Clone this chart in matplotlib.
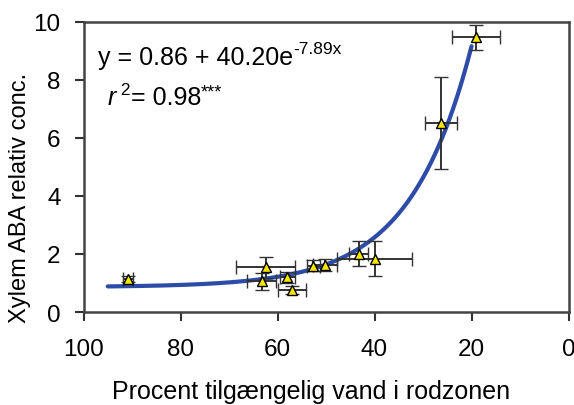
import numpy as np
import matplotlib
matplotlib.use("Agg")
import matplotlib.pyplot as plt
from matplotlib.transforms import offset_copy

plt.rcParams['font.family'] = ['Liberation Sans', 'DejaVu Sans']

# Data (percent available water, relative xylem ABA concentration)
x_pct = [90.8, 62.4, 63.3, 58.0, 57.1, 52.6, 50.2, 43.3, 40.0, 26.3, 19.1]
y_aba = [1.14, 1.54, 1.06, 1.19, 0.76, 1.60, 1.63, 2.00, 1.83, 6.51, 9.46]
x_err = [1.0, 6.1, 2.9, 1.5, 2.9, 1.3, 2.5, 2.0, 7.7, 3.3, 4.9]
y_err = [0.10, 0.36, 0.30, 0.20, 0.15, 0.20, 0.20, 0.43, 0.60, 1.60, 0.43]

# Fitted model y = a + b*exp(-k*x), x as fraction
fit_a, fit_b, fit_k = 0.86, 40.20, 7.89
fit_range = (0.20, 0.95)

x_ticks = [100, 80, 60, 40, 20, 0]
y_ticks = [0, 2, 4, 6, 8, 10]

fig = plt.figure(figsize=(5.74, 4.06), dpi=100)
ax = fig.add_axes([0.1455, 0.229, 0.845, 0.715])

xf = np.linspace(fit_range[0], fit_range[1], 200)
yf = fit_a + fit_b * np.exp(-fit_k * xf)
ax.plot(xf * 100, yf, color='#2c4ca8', lw=3.0, zorder=2, solid_capstyle='round')

ax.errorbar(x_pct, y_aba, xerr=x_err, yerr=y_err, fmt='^', ms=7.5,
            mfc='#f5e600', mec='black', mew=1.0, ecolor='#333333',
            elinewidth=1.4, capsize=5, capthick=1.4, zorder=3)

ax.set_xlim(100, 0)
ax.set_ylim(0, 10)
ax.set_xticks(x_ticks)
ax.set_yticks(y_ticks)
ax.tick_params(direction='out', length=6.5, width=1.5, colors='#333333',
               labelsize=17.5, labelcolor='black')
ax.tick_params(axis='x', pad=12)
ax.tick_params(axis='y', pad=10)
for s in ax.spines.values():
    s.set_color('#444444')
    s.set_linewidth(1.8)

ax.set_xlabel('Procent tilgængelig vand i rodzonen', fontsize=18)
ax.xaxis.set_label_coords(0.469, -0.232)
ax.set_ylabel('Xylem ABA relativ conc.', fontsize=17)
ax.yaxis.set_label_coords(-0.108, 0.395)

fig.canvas.draw()
renderer = fig.canvas.get_renderer()


def chain(pieces, x0, y0):
    """pieces: list of (text, fontsize, rise_px, style)"""
    base = ax.transAxes
    xoff = 0.0
    for txt, fs, rise, style in pieces:
        tr = offset_copy(base, fig=fig, x=xoff, y=rise * 72 / fig.dpi,
                         units='points')
        t = ax.text(x0, y0, txt, transform=tr, fontsize=fs, va='baseline',
                    ha='left', style=style)
        bb = t.get_window_extent(renderer=renderer)
        xoff += bb.width * 72 / fig.dpi


chain([('y = 0.86 + 40.20e', 18, 0, 'normal'),
       ('-7.89x', 12.5, 11, 'normal')], 0.03, 0.854)
chain([('r', 18, 0, 'italic'),
       (' 2', 12.5, 10, 'normal'),
       ('= 0.98', 18, 0, 'normal'),
       ('***', 13, 8, 'normal')], 0.05, 0.716)

fig.savefig('out.png', dpi=100)
